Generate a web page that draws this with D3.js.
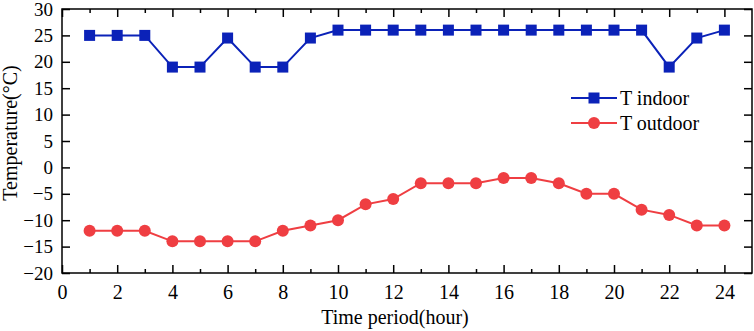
<!DOCTYPE html>
<html><head><meta charset="utf-8">
<script src="https://cdn.jsdelivr.net/npm/d3@7"></script>
<style>body{margin:0;background:#fff}svg{display:block}</style>
</head><body>
<svg id="c" width="754" height="331"></svg>
<script>
const hours = [1,2,3,4,5,6,7,8,9,10,11,12,13,14,15,16,17,18,19,20,21,22,23,24];
const tIndoor = [25,25,25,19,19,24.5,19,19,24.5,26,26,26,26,26,26,26,26,26,26,26,26,19,24.5,26];
const tOutdoor = [-12,-12,-12,-14,-14,-14,-14,-12,-11,-10,-7,-6,-3,-3,-3,-2,-2,-3,-5,-5,-8,-9,-11,-11];
const xTicks = [0,2,4,6,8,10,12,14,16,18,20,22,24];
const xMinor = [1,3,5,7,9,11,13,15,17,19,21,23];
const yTicks = [-20,-15,-10,-5,0,5,10,15,20,25,30];
const seriesNames = ["T indoor","T outdoor"];

const svg = d3.select("#c");
const L=62, R=752, T=9, B=273;
const x = d3.scaleLinear().domain([0,25]).range([L,R]);
const y = d3.scaleLinear().domain([-20,30]).range([B,T]);
const font = "Liberation Serif";
const blue = "#0b22b8", red = "#ef3e42";

const g = svg.append("g");
function styleAxis(sel, fs){
  sel.attr("font-family",font).attr("font-size",fs);
  sel.select(".domain").remove();
  sel.selectAll("line").attr("stroke","#000").attr("stroke-width",1.5);
  sel.selectAll("text").attr("font-family",font).attr("font-size",fs).attr("fill","#000");
}
// frame
g.append("rect").attr("x",L).attr("y",T).attr("width",R-L).attr("height",B-T)
  .attr("fill","none").attr("stroke","#000").attr("stroke-width",1.5);

styleAxis(g.append("g").attr("transform",`translate(0,${B})`)
  .call(d3.axisBottom(x).tickValues(xTicks).tickSizeInner(-8).tickSizeOuter(0).tickPadding(12)), 20);
styleAxis(g.append("g").attr("transform",`translate(0,${B})`)
  .call(d3.axisBottom(x).tickValues(xMinor).tickSizeInner(-4).tickSizeOuter(0).tickFormat("")), 20);
styleAxis(g.append("g").attr("transform",`translate(0,${T})`)
  .call(d3.axisTop(x).tickValues(xTicks).tickSizeInner(-8).tickSizeOuter(0).tickFormat("")), 20);
styleAxis(g.append("g").attr("transform",`translate(0,${T})`)
  .call(d3.axisTop(x).tickValues(xMinor).tickSizeInner(-4).tickSizeOuter(0).tickFormat("")), 20);
styleAxis(g.append("g").attr("transform",`translate(${L},0)`)
  .call(d3.axisLeft(y).tickValues(yTicks).tickSizeInner(-8).tickSizeOuter(0).tickPadding(9)), 19);
styleAxis(g.append("g").attr("transform",`translate(${R},0)`)
  .call(d3.axisRight(y).tickValues(yTicks).tickSizeInner(-8).tickSizeOuter(0).tickFormat("")), 19);

// titles
svg.append("text").attr("x",395).attr("y",324).attr("text-anchor","middle")
  .attr("font-family",font).attr("font-size",20).text("Time period(hour)");
svg.append("text").attr("transform",`translate(17,133) rotate(-90)`).attr("text-anchor","middle")
  .attr("font-family",font).attr("font-size",20).text("Temperature(°C)");

const line = d3.line().x(d=>x(d[0])).y(d=>y(d[1]));
const dIn = hours.map((h,i)=>[h,tIndoor[i]]);
const dOut = hours.map((h,i)=>[h,tOutdoor[i]]);
g.append("path").datum(dIn).attr("d",line).attr("fill","none").attr("stroke",blue).attr("stroke-width",2);
g.selectAll(".sq").data(dIn).enter().append("rect")
  .attr("x",d=>x(d[0])-5.5).attr("y",d=>y(d[1])-5.5).attr("width",11).attr("height",11).attr("fill",blue);
g.append("path").datum(dOut).attr("d",line).attr("fill","none").attr("stroke",red).attr("stroke-width",2);
g.selectAll(".ci").data(dOut).enter().append("circle")
  .attr("cx",d=>x(d[0])).attr("cy",d=>y(d[1])).attr("r",6).attr("fill",red);

// legend
const lg = svg.append("g");
[[blue,"sq"],[red,"ci"]].forEach((s,i)=>{
  const yy = 98 + i*25;
  lg.append("line").attr("x1",571).attr("x2",617).attr("y1",yy).attr("y2",yy).attr("stroke",s[0]).attr("stroke-width",2);
  if(s[1]==="sq") lg.append("rect").attr("x",594-5.5).attr("y",yy-5.5).attr("width",11).attr("height",11).attr("fill",s[0]);
  else lg.append("circle").attr("cx",594).attr("cy",yy).attr("r",6).attr("fill",s[0]);
  lg.append("text").attr("x",620).attr("y",yy+7).attr("font-family",font).attr("font-size",20).text(seriesNames[i]);
});
</script>
</body></html>
